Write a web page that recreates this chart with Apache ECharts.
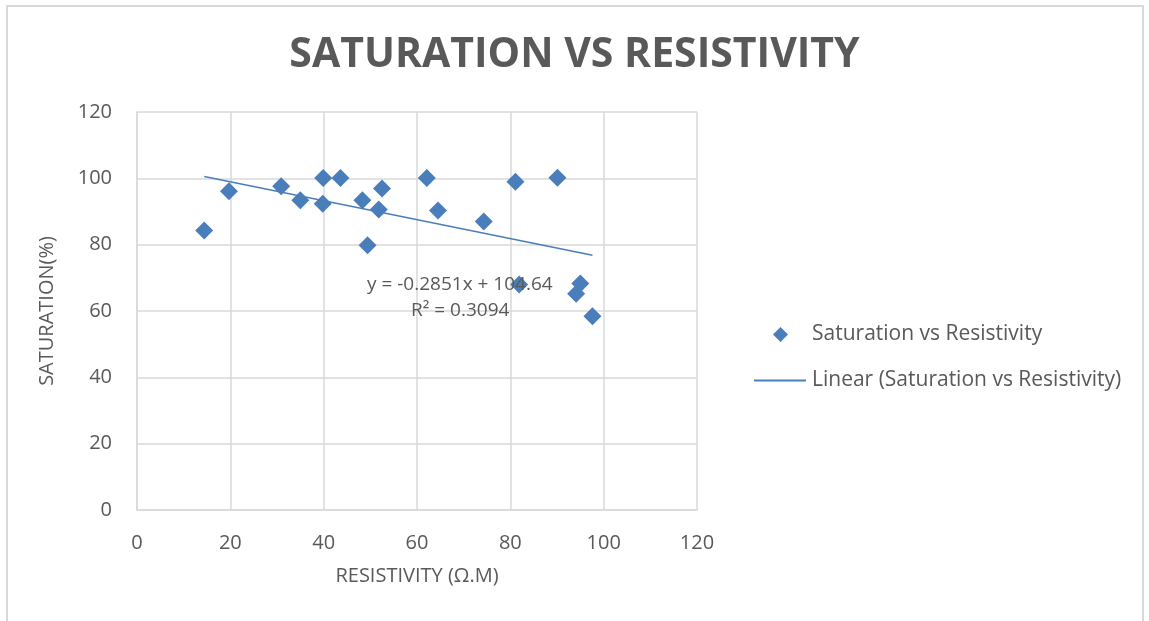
<!DOCTYPE html>
<html>
<head>
<meta charset="utf-8">
<script src="https://cdn.jsdelivr.net/npm/echarts@6/dist/echarts.min.js"></script>
<style>
html,body{margin:0;padding:0;background:#fff;}
#frame{position:absolute;left:6px;top:5px;width:1138px;height:640px;border:2px solid #d9d9d9;border-bottom:none;box-sizing:border-box;}
#chart{position:absolute;left:0;top:0;width:1149px;height:621px;}
</style>
</head>
<body>
<div id="frame"></div>
<div id="chart"></div>
<script>
// Data
const resistivity = [14.4, 19.7, 30.9, 35.0, 39.9, 39.8, 43.6, 48.3, 49.4, 51.8, 52.5, 62.1, 64.5, 74.3, 81.1, 90.1, 81.9, 95.0, 94.1, 97.6];
const saturation  = [84.3, 96.1, 97.6, 93.4, 100.1, 92.3, 100.1, 93.4, 79.8, 90.6, 96.9, 100.1, 90.3, 87.0, 99.0, 100.2, 68.0, 68.3, 65.2, 58.4];
const xTicks = [0, 20, 40, 60, 80, 100, 120];
const yTicks = [0, 20, 40, 60, 80, 100, 120];
const trendSlope = -0.2851;
const trendIntercept = 104.64;
const trendLabel = ['y = -0.2851x + 104.64', 'R\u00b2 = 0.3094'];
const seriesName = 'Saturation vs Resistivity';
const trendName = 'Linear (Saturation vs Resistivity)';

const pts = resistivity.map((x, i) => [x, saturation[i]]);
const xMin = Math.min(...resistivity), xMax = Math.max(...resistivity);
const trend = [[xMin, trendIntercept + trendSlope * xMin], [xMax, trendIntercept + trendSlope * xMax]];

const FONT = '"Open Sans", sans-serif';
const TXT = '#595959';
const BLUE = '#4a7ebb';

const chart = echarts.init(document.getElementById('chart'), null, {renderer: 'canvas'});
chart.setOption({
  animation: false,
  backgroundColor: 'transparent',
  title: {
    text: 'SATURATION VS RESISTIVITY',
    left: 'center',
    top: 30,
    textStyle: {fontFamily: FONT, fontWeight: 'bold', fontSize: 41, color: TXT}
  },
  grid: {left: 137, right: 452, top: 112, bottom: 111, containLabel: false},
  xAxis: {
    type: 'value', min: xTicks[0], max: xTicks[xTicks.length - 1], interval: 20,
    name: 'RESISTIVITY (\u03a9.M)', nameLocation: 'middle', nameGap: 56,
    nameTextStyle: {fontFamily: FONT, fontSize: 20, color: TXT},
    axisLine: {show: true, lineStyle: {color: '#d9d9d9', width: 1.5}},
    axisTick: {show: false},
    axisLabel: {fontFamily: FONT, fontSize: 20, color: TXT, margin: 23},
    splitLine: {show: true, lineStyle: {color: '#d9d9d9', width: 1.5}}
  },
  yAxis: {
    type: 'value', min: yTicks[0], max: yTicks[yTicks.length - 1], interval: 20,
    name: 'SATURATION(%)', nameLocation: 'middle', nameGap: 80, nameRotate: 90,
    nameTextStyle: {fontFamily: FONT, fontSize: 20, color: TXT},
    axisLine: {show: true, lineStyle: {color: '#d9d9d9', width: 1.5}},
    axisTick: {show: false},
    axisLabel: {fontFamily: FONT, fontSize: 20, color: TXT, margin: 25},
    splitLine: {show: true, lineStyle: {color: '#d9d9d9', width: 1.5}}
  },
  legend: [
    {
      data: [{name: seriesName, icon: 'diamond'}],
      left: 768, top: 319, itemWidth: 15, itemHeight: 15,
      textStyle: {fontFamily: FONT, fontSize: 21, color: TXT, padding: [0, 0, 0, 19]}
    },
    {
      data: [{name: trendName, icon: 'rect'}],
      left: 749, top: 365, itemWidth: 52, itemHeight: 2,
      textStyle: {fontFamily: FONT, fontSize: 21, color: TXT, padding: [0, 0, 0, 1]}
    }
  ],
  series: [
    {
      name: seriesName, type: 'scatter', data: pts,
      symbol: 'diamond', symbolSize: 18,
      itemStyle: {color: BLUE, opacity: 1}, z: 3
    },
    {
      name: trendName, type: 'line', data: trend,
      symbol: 'none', lineStyle: {color: BLUE, width: 1.5}, itemStyle: {color: BLUE}, z: 2
    }
  ],
  graphic: [
    {
      type: 'text', left: 367, top: 275, z: 10,
      style: {text: trendLabel[0], font: '19px ' + FONT, fill: TXT}
    },
    {
      type: 'text', left: 411, top: 301, z: 10,
      style: {text: trendLabel[1], font: '19px ' + FONT, fill: TXT}
    }
  ]
});
</script>
</body>
</html>
